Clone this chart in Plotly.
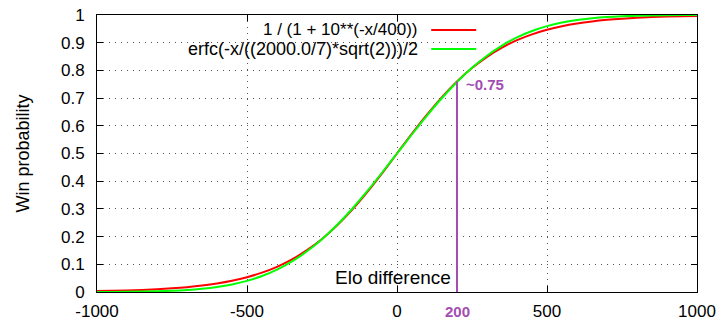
import plotly.graph_objects as go

# Elo differences (x) and read-off win probabilities
elo_diff = [-1000, -950, -900, -850, -800, -750, -700, -650, -600, -550, -500,
            -450, -400, -350, -300, -250, -200, -150, -100, -50, 0,
            50, 100, 150, 200, 250, 300, 350, 400, 450, 500,
            550, 600, 650, 700, 750, 800, 850, 900, 950, 1000]

logistic_vals = [0.0032, 0.0042, 0.0056, 0.0074, 0.0099, 0.0132, 0.0175, 0.0232, 0.0307, 0.0405, 0.0532,
                 0.0698, 0.0909, 0.1177, 0.151, 0.1917, 0.240, 0.2966, 0.360, 0.4285, 0.5,
                 0.5715, 0.640, 0.7034, 0.760, 0.8083, 0.849, 0.8823, 0.9091, 0.9302, 0.9468,
                 0.9595, 0.9693, 0.9768, 0.9825, 0.9868, 0.9901, 0.9926, 0.9944, 0.9958, 0.9968]

erfc_vals = [0.0002, 0.0004, 0.0008, 0.0015, 0.0026, 0.0043, 0.0071, 0.0115, 0.0179, 0.0271, 0.0401,
             0.0576, 0.0808, 0.1103, 0.1469, 0.1908, 0.242, 0.2998, 0.363, 0.4305, 0.5,
             0.5695, 0.637, 0.7002, 0.758, 0.8092, 0.8531, 0.8897, 0.9192, 0.9424, 0.9599,
             0.9729, 0.9821, 0.9885, 0.9929, 0.9957, 0.9974, 0.9985, 0.9992, 0.9996, 0.9998]

legend_labels = ["1 / (1 + 10**(-x/400))", "erfc(-x/((2000.0/7)*sqrt(2)))/2"]
x_ticks = [-1000, -500, 0, 500, 1000]
y_ticks = [0, 0.1, 0.2, 0.3, 0.4, 0.5, 0.6, 0.7, 0.8, 0.9, 1]
marker_x = 200
marker_y = 0.76
marker_label = "~0.75"

FONT = "Liberation Sans, Arial, sans-serif"
PURPLE = "#a24eb0"

fig = go.Figure()
fig.add_trace(go.Scatter(x=elo_diff, y=logistic_vals, mode="lines", name=legend_labels[0],
                         line=dict(color="#ff0000", width=2, shape="spline")))
fig.add_trace(go.Scatter(x=elo_diff, y=erfc_vals, mode="lines", name=legend_labels[1],
                         line=dict(color="#00ff00", width=2, shape="spline")))

# purple marker line
fig.add_trace(go.Scatter(x=[marker_x, marker_x], y=[0, marker_y], mode="lines",
                         line=dict(color=PURPLE, width=2), showlegend=False))

# legend drawn gnuplot-style (text right, sample after)
legend_sizes = [17, 18]
for i, lab in enumerate(legend_labels):
    ypos = 0.946 - i * 0.069
    fig.add_annotation(xref="paper", yref="paper", x=0.538, y=ypos, text=lab, showarrow=False,
                       xanchor="right", yanchor="middle",
                       font=dict(family=FONT, size=legend_sizes[i], color="black"))
    fig.add_shape(type="line", xref="paper", yref="paper", x0=0.557, x1=0.632, y0=ypos, y1=ypos,
                  line=dict(color=["#ff0000", "#00ff00"][i], width=2))

fig.add_annotation(x=marker_x, y=0.75, text="<b>" + marker_label + "</b>", showarrow=False,
                   xanchor="left", yanchor="middle", xshift=7,
                   font=dict(family=FONT, size=15, color=PURPLE))
fig.add_annotation(x=marker_x, y=0, yref="y", text="<b>" + str(marker_x) + "</b>", showarrow=False,
                   xanchor="center", yanchor="top", yshift=-9,
                   font=dict(family=FONT, size=15, color=PURPLE))
fig.add_annotation(x=marker_x, y=0.052, text="Elo difference", showarrow=False,
                   xanchor="right", yanchor="middle", xshift=-4,
                   font=dict(family=FONT, size=19, color="black"))
fig.add_annotation(xref="paper", yref="paper", x=-0.125, y=0.5, text="Win probability",
                   textangle=-90, showarrow=False, xanchor="center", yanchor="middle",
                   font=dict(family=FONT, size=18, color="black"))

fig.update_layout(
    width=722, height=320,
    margin=dict(l=97, r=25, t=15, b=28),
    paper_bgcolor="white", plot_bgcolor="white",
    showlegend=False,
    font=dict(family=FONT, size=17, color="black"),
    xaxis=dict(range=[-1000, 1000], tickvals=x_ticks, ticktext=[str(v) for v in x_ticks],
               showline=True, linecolor="black", linewidth=1, mirror="ticks",
               ticks="inside", ticklen=6, tickcolor="black", ticklabelstandoff=4,
               showgrid=True, gridcolor="#555555", griddash="1px,5px", gridwidth=1,
               zeroline=False, automargin=False),
    yaxis=dict(range=[0, 1], tickvals=y_ticks, ticktext=[("%g" % v) for v in y_ticks],
               showline=True, linecolor="black", linewidth=1, mirror="ticks",
               ticks="inside", ticklen=6, tickcolor="black", ticklabelstandoff=8,
               showgrid=True, gridcolor="#555555", griddash="1px,5px", gridwidth=1,
               zeroline=False, automargin=False),
)

fig.write_html("out.html", config={"displayModeBar": False},
               post_script="document.body.style.margin='0';document.body.style.overflow='hidden';")
